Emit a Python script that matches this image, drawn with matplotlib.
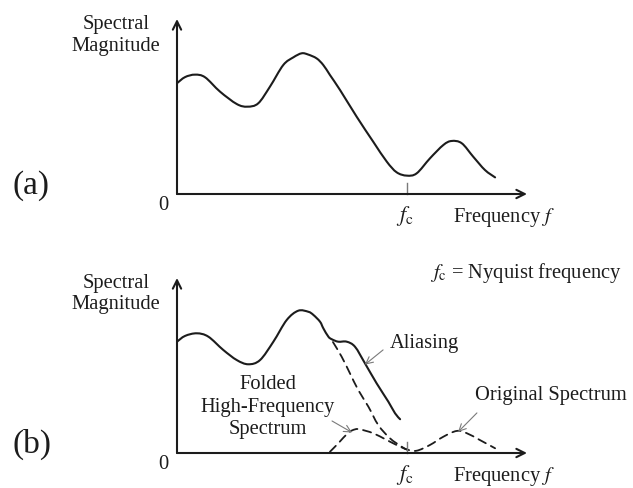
import matplotlib
matplotlib.use("Agg")
import matplotlib.pyplot as plt
from matplotlib.path import Path
from matplotlib.patches import PathPatch

plt.rcParams["font.family"] = ["Liberation Serif", "DejaVu Serif"]
plt.rcParams["mathtext.fontset"] = "stix"

# Frequency in units of the Nyquist frequency f_c, magnitude in arbitrary units
FC = 1.0

# (a) spectrum of the continuous signal
freq_a = [0.0, 0.035, 0.078, 0.122, 0.187, 0.260, 0.306, 0.353, 0.404,
          0.462, 0.506, 0.542, 0.570, 0.607, 0.636, 0.665, 0.709, 0.781, 0.853,
          0.912, 0.955, 0.999, 1.042, 1.100, 1.158, 1.194, 1.238, 1.288, 1.339,
          1.383]
mag_a = [0.633, 0.668, 0.682, 0.667, 0.585, 0.514, 0.499, 0.518, 0.613,
         0.737, 0.781, 0.804, 0.797, 0.775, 0.737, 0.680, 0.594, 0.442, 0.299,
         0.185, 0.124, 0.105, 0.118, 0.204, 0.280, 0.303, 0.290, 0.213, 0.137,
         0.095]

# (b) aliased spectrum (solid)
freq_alias = [0.0, 0.035, 0.086, 0.136, 0.201, 0.260, 0.310, 0.361, 0.419,
              0.477, 0.527, 0.571, 0.593, 0.622, 0.636, 0.658, 0.673, 0.701,
              0.738, 0.774, 0.817, 0.868, 0.919, 0.948, 0.970]
mag_alias = [0.636, 0.669, 0.684, 0.665, 0.589, 0.531, 0.507, 0.531, 0.636,
             0.760, 0.813, 0.807, 0.789, 0.750, 0.713, 0.665, 0.650, 0.636,
             0.636, 0.607, 0.513, 0.398, 0.293, 0.227, 0.193]

# (b) original spectrum beyond the shoulder (dashed)
freq_orig = [0.678, 0.716, 0.752, 0.788, 0.832, 0.875, 0.926, 0.977, 1.0,
             1.042, 1.100, 1.158, 1.216, 1.260, 1.317, 1.383]
mag_orig = [0.634, 0.550, 0.455, 0.360, 0.265, 0.160, 0.084, 0.036, 0.020,
            0.013, 0.046, 0.093, 0.126, 0.113, 0.074, 0.027]

# (b) high-frequency part folded back about f_c (dashed)
freq_fold = [0.665, 0.701, 0.745, 0.774, 0.796, 0.853, 0.912, 0.970, 1.0]
mag_fold = [0.007, 0.055, 0.116, 0.135, 0.135, 0.113, 0.074, 0.036, 0.020]

INK = "#1c1c1c"
GREY = "#7a7a7a"
FS = 14.8
XMAX = 350 / 230
DASH = (0, (4.6, 3.2))


def smooth_path(xs, ys):
    """Cubic Bezier path passing through every (x, y) (Catmull-Rom tangents)."""
    pts = list(zip(xs, ys))
    n = len(pts)
    verts = [pts[0]]
    codes = [Path.MOVETO]
    for i in range(n - 1):
        p0 = pts[max(i - 1, 0)]
        p1 = pts[i]
        p2 = pts[i + 1]
        p3 = pts[min(i + 2, n - 1)]
        c1 = (p1[0] + (p2[0] - p0[0]) / 6, p1[1] + (p2[1] - p0[1]) / 6)
        c2 = (p2[0] - (p3[0] - p1[0]) / 6, p2[1] - (p3[1] - p1[1]) / 6)
        verts += [c1, c2, p2]
        codes += [Path.CURVE4] * 3
    return Path(verts, codes)


def curve(ax, xs, ys, **kw):
    patch = PathPatch(smooth_path(xs, ys), fill=False, edgecolor=INK,
                      capstyle="round", joinstyle="round", **kw)
    ax.add_patch(patch)


fig = plt.figure(figsize=(6.33, 4.88), dpi=100)
ax_a = fig.add_axes([177 / 633, 294 / 488, 350 / 633, 175 / 488])
ax_b = fig.add_axes([177 / 633, 35 / 488, 350 / 633, 175 / 488])


def frame(ax, label):
    ax.set_xlim(0, XMAX)
    ax.set_ylim(0, 1)
    ax.axis("off")
    head = "->,head_length=0.6,head_width=0.3"
    ax.annotate("", xy=(XMAX, 0), xytext=(0, 0), annotation_clip=False,
                arrowprops=dict(arrowstyle=head, lw=1.5, color=INK,
                                shrinkA=0, shrinkB=0))
    ax.annotate("", xy=(0, 1), xytext=(0, 0), annotation_clip=False,
                arrowprops=dict(arrowstyle=head, lw=1.5, color=INK,
                                shrinkA=0, shrinkB=0))
    ax.plot([FC, FC], [0, 0.063], color=GREY, lw=1.0, clip_on=False)
    ax.text(-0.265, 0.945, "Spectral", ha="center", va="baseline",
            fontsize=FS, color=INK, clip_on=False)
    ax.text(-0.265, 0.82, "Magnitude", ha="center", va="baseline",
            fontsize=FS, color=INK, clip_on=False)
    ax.text(-0.061, -0.092, "0", ha="center", va="baseline",
            fontsize=FS, color=INK)
    ax.text(FC - 0.01, -0.155, r"$f_\mathrm{c}$", ha="center", va="baseline",
            fontsize=FS + 1, color=INK)
    ax.text(1.2, -0.16, r"Frequency $f$", ha="left", va="baseline",
            fontsize=FS, color=INK)
    ax.text(-0.715, 0.0, label, ha="left", va="baseline",
            fontsize=24, color=INK)


frame(ax_a, "(a)")
curve(ax_a, freq_a, mag_a, lw=1.5)

frame(ax_b, "(b)")
curve(ax_b, freq_alias, mag_alias, lw=1.5)
curve(ax_b, freq_orig, mag_orig, lw=1.3, linestyle=DASH)
curve(ax_b, freq_fold, mag_fold, lw=1.3, linestyle=DASH)

ax_b.text(1.1, 1.0, r"$f_\mathrm{c}$ = Nyquist frequency", ha="left",
          va="baseline", fontsize=FS, color=INK, clip_on=False)

arrow_kw = dict(arrowstyle="->,head_length=0.5,head_width=0.25", lw=0.8,
                color=GREY, shrinkA=0, shrinkB=0)
ax_b.annotate("", xy=(0.817, 0.505), xytext=(0.896, 0.589),
              arrowprops=arrow_kw)
ax_b.text(0.926, 0.60, "Aliasing", ha="left", va="baseline",
          fontsize=FS, color=INK)
ax_b.annotate("", xy=(0.761, 0.117), xytext=(0.674, 0.183),
              arrowprops=arrow_kw)
ax_b.annotate("", xy=(1.222, 0.12), xytext=(1.304, 0.229),
              arrowprops=arrow_kw)
ax_b.text(1.296, 0.303, "Original Spectrum", ha="left", va="baseline",
          fontsize=FS, color=INK, clip_on=False)
ax_b.text(0.395, 0.366, "Folded", ha="center", va="baseline",
          fontsize=FS, color=INK)
ax_b.text(0.395, 0.234, "High-Frequency", ha="center", va="baseline",
          fontsize=FS, color=INK)
ax_b.text(0.395, 0.109, "Spectrum", ha="center", va="baseline",
          fontsize=FS, color=INK)

fig.savefig("out.png", dpi=100, facecolor="white")
